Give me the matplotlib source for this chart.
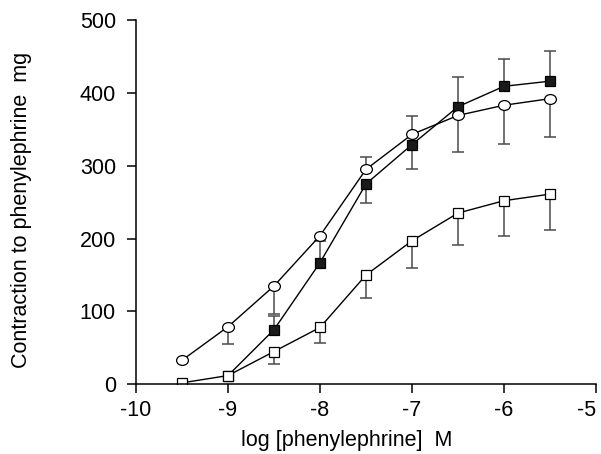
import matplotlib
matplotlib.use("Agg")
import matplotlib.pyplot as plt
import numpy as np
from matplotlib.path import Path
from matplotlib.transforms import Affine2D

plt.rcParams['font.family'] = ['Liberation Sans', 'DejaVu Sans']
plt.rcParams['axes.unicode_minus'] = False

# log [phenylephrine] M
conc_circle = [-9.5, -9, -8.5, -8, -7.5, -7, -6.5, -6, -5.5]
conc_filled = [-9, -8.5, -8, -7.5, -7, -6.5, -6, -5.5]
conc_open = [-9.5, -9, -8.5, -8, -7.5, -7, -6.5, -6, -5.5]

# mean contraction (mg)
circle_mean = [33, 79, 135, 204, 295, 343, 369, 383, 392]
filled_mean = [12, 75, 167, 275, 329, 381, 409, 416]
open_mean = [2, 12, 45, 78, 150, 197, 235, 252, 261]

# SEM, drawn only one way (up or down) as in the original figure
circle_sem = [0, 24, 38, 0, 17, 25, 50, 53, 52]
circle_up = [False, False, False, False, True, True, False, False, False]
filled_sem = [0, 19, 30, 26, 34, 41, 38, 42]
filled_up = [True, True, True, False, False, True, True, True]
open_sem = [0, 0, 17, 21, 31, 37, 44, 48, 49]
open_up = [False] * 9

# slightly wide ellipse, like the circles in the scan
ellipse = Path.unit_circle().transformed(Affine2D().scale(1.2, 1.0))


def draw_sem(ax, x, y, sem, up):
    x = np.array(x, dtype=float)
    y = np.array(y, dtype=float)
    sem = np.array(sem, dtype=float)
    up = np.array(up)
    end = np.where(up, y + sem, y - sem)
    m = sem > 0
    ax.vlines(x[m], y[m], end[m], color='#4a4a4a', lw=1.1, zorder=1)
    # caps
    ax.hlines(end[m], x[m] - 0.065, x[m] + 0.065, color='#4a4a4a', lw=1.1, zorder=1)


fig = plt.figure(figsize=(6.01, 4.54), dpi=100)
ax = fig.add_axes([0.2263, 0.1535, 0.7654, 0.8025])

draw_sem(ax, conc_open, open_mean, open_sem, open_up)
draw_sem(ax, conc_filled, filled_mean, filled_sem, filled_up)
draw_sem(ax, conc_circle, circle_mean, circle_sem, circle_up)

ax.plot(conc_filled, filled_mean, color='black', lw=1.0, marker='s', ms=7.5,
        mfc='#1a1a1a', mec='black', mew=0.9, zorder=3)
ax.plot(conc_circle, circle_mean, color='black', lw=1.0, marker=ellipse, ms=8.5,
        mfc='white', mec='black', mew=0.9, zorder=4)
ax.plot(conc_open, open_mean, color='black', lw=1.0, marker='s', ms=7.5,
        mfc='white', mec='black', mew=0.9, zorder=5)

ax.set_xlim(-10, -5)
ax.set_ylim(0, 500)
ax.set_xticks([-10, -9, -8, -7, -6, -5])
ax.set_yticks([0, 100, 200, 300, 400, 500])

for side in ['top', 'right']:
    ax.spines[side].set_visible(False)
for side in ['left', 'bottom']:
    ax.spines[side].set_linewidth(1.1)
    ax.spines[side].set_zorder(6)

ax.tick_params(direction='out', length=6.5, width=1.1, labelsize=15.5)
ax.tick_params(axis='y', pad=8)
ax.tick_params(axis='x', pad=5)
ax.get_xticklabels()[-1].set_horizontalalignment('right')

ax.set_xlabel('log [phenylephrine]  M', fontsize=15.5)
ax.set_ylabel('Contraction to phenylephrine  mg', fontsize=15.5)
ax.xaxis.set_label_coords(0.4576, -0.125)
ax.yaxis.set_label_coords(-0.226, 0.478)

fig.savefig('out.png', dpi=100)
